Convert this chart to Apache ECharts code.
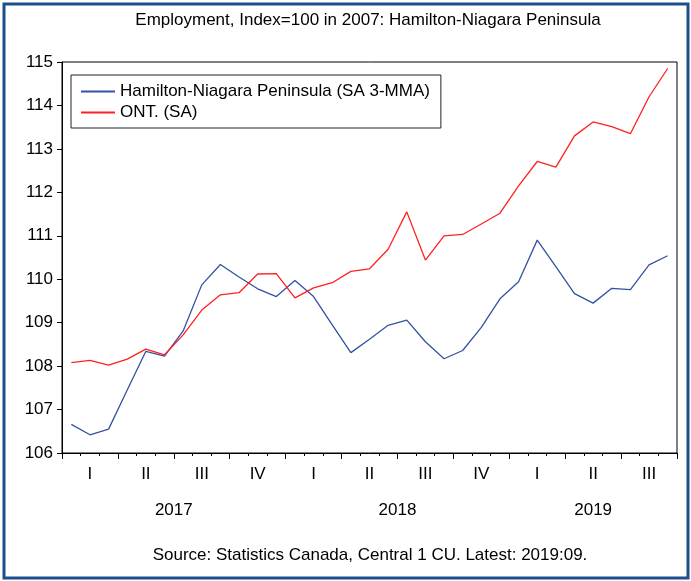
<!DOCTYPE html>
<html>
<head>
<meta charset="utf-8">
<script src="https://cdn.jsdelivr.net/npm/echarts@6/dist/echarts.min.js"></script>
<style>
  html, body { margin: 0; padding: 0; background: #fff; }
  #chart { width: 691px; height: 581px; }
</style>
</head>
<body>
<div id="chart"></div>
<script>
// Monthly observations, Jan 2017 .. Sep 2019
const months = [
  '2017-01','2017-02','2017-03','2017-04','2017-05','2017-06','2017-07','2017-08','2017-09','2017-10','2017-11','2017-12',
  '2018-01','2018-02','2018-03','2018-04','2018-05','2018-06','2018-07','2018-08','2018-09','2018-10','2018-11','2018-12',
  '2019-01','2019-02','2019-03','2019-04','2019-05','2019-06','2019-07','2019-08','2019-09'
];
const quarters = ['2017Q1','2017Q2','2017Q3','2017Q4','2018Q1','2018Q2','2018Q3','2018Q4','2019Q1','2019Q2','2019Q3'];
const quarterNames = ['I', 'II', 'III', 'IV'];
// Year label placed at the middle of each year's span (in months from the start)
const yearCentres = { 6: '2017', 18: '2018', 28.5: '2019' };

const hamilton = [
  106.66, 106.42, 106.55, 107.45, 108.34, 108.23, 108.81, 109.87, 110.34, 110.05, 109.78, 109.60,
  109.97, 109.60, 108.95, 108.31, 108.62, 108.94, 109.06, 108.56, 108.17, 108.36, 108.89, 109.55,
  109.94, 110.90, 110.29, 109.67, 109.45, 109.79, 109.76, 110.33, 110.54
];
const ontario = [
  108.08, 108.13, 108.02, 108.16, 108.39, 108.26, 108.72, 109.29, 109.64, 109.69, 110.12, 110.13,
  109.57, 109.80, 109.92, 110.18, 110.24, 110.69, 111.55, 110.44, 111.00, 111.03, 111.27, 111.52,
  112.15, 112.71, 112.58, 113.30, 113.62, 113.51, 113.35, 114.20, 114.85
];

const seriesNames = ['Hamilton-Niagara Peninsula (SA 3-MMA)', 'ONT. (SA)'];
const yTicks = { min: 106, max: 115, step: 1 };

const FONT = '"Liberation Sans", Arial, sans-serif';
const FS = 17;
const chart = echarts.init(document.getElementById('chart'), null, { renderer: 'canvas' });

const gridBox = { left: 62, top: 62, right: 14, bottom: 128 };

chart.setOption({
  backgroundColor: '#ffffff',
  animation: false,
  title: [
    {
      text: 'Employment, Index=100 in 2007: Hamilton-Niagara Peninsula',
      left: 368, top: 12, textAlign: 'center', padding: 0,
      textStyle: { fontFamily: FONT, fontSize: FS, fontWeight: 'normal', color: '#000' }
    },
    {
      text: 'Source: Statistics Canada, Central 1 CU. Latest: 2019:09.',
      left: 370, top: 547, textAlign: 'center', padding: 0,
      textStyle: { fontFamily: FONT, fontSize: FS, fontWeight: 'normal', color: '#000' }
    }
  ],
  legend: {
    left: 71, top: 75, orient: 'vertical',
    data: seriesNames,
    backgroundColor: '#fff',
    borderColor: '#222', borderWidth: 1,
    padding: [8, 11, 7, 9],
    itemWidth: 34, itemHeight: 14, itemGap: 4,
    itemStyle: { opacity: 0 },
    textStyle: { fontFamily: FONT, fontSize: FS, color: '#000' }
  },
  grid: Object.assign({ show: true, borderColor: '#000', borderWidth: 1, containLabel: false }, gridBox),
  xAxis: [
    {
      // monthly bands with minor ticks and quarter numerals
      type: 'category', data: months, boundaryGap: true, position: 'bottom',
      axisLine: { show: true, lineStyle: { color: '#000', width: 1 } },
      axisTick: { show: true, interval: 0, length: 3, lineStyle: { color: '#000' } },
      axisLabel: {
        interval: 0, margin: 13,
        fontFamily: FONT, fontSize: FS, color: '#000',
        formatter: (v, i) => (i % 3 === 1 ? quarterNames[Math.floor((Number(v.slice(5)) - 1) / 3)] : '')
      },
      splitLine: { show: false }
    },
    {
      // quarter boundaries: longer ticks
      type: 'category', data: quarters, boundaryGap: true, position: 'bottom',
      axisLine: { show: false },
      axisTick: { show: true, interval: 0, length: 6, lineStyle: { color: '#000' } },
      axisLabel: { show: false },
      splitLine: { show: false }
    },
    {
      // year labels centred under each year
      type: 'value', min: 0, max: months.length, interval: 0.5, position: 'bottom',
      axisLine: { show: false }, axisTick: { show: false }, splitLine: { show: false },
      axisLabel: {
        margin: 49, showMinLabel: true, showMaxLabel: true,
        fontFamily: FONT, fontSize: FS, color: '#000',
        formatter: v => yearCentres[v] || ''
      }
    }
  ],
  yAxis: {
    type: 'value', min: yTicks.min, max: yTicks.max, interval: yTicks.step,
    axisLine: { show: true, lineStyle: { color: '#000', width: 1 } },
    axisTick: { show: true, length: 5, lineStyle: { color: '#000' } },
    axisLabel: { margin: 9, fontFamily: FONT, fontSize: FS, color: '#000' },
    splitLine: { show: false }
  },
  series: [
    {
      name: seriesNames[0], type: 'line', data: hamilton, xAxisIndex: 0,
      symbol: 'none', lineStyle: { color: '#3451a3', width: 1.3 }, itemStyle: { color: '#3451a3' }
    },
    {
      name: seriesNames[1], type: 'line', data: ontario, xAxisIndex: 0,
      symbol: 'none', lineStyle: { color: '#ff2020', width: 1.3 }, itemStyle: { color: '#ff2020' }
    }
  ],
  graphic: [
    {
      type: 'rect', silent: true, z: 100,
      shape: { x: 4, y: 4, width: 684, height: 574 },
      style: { fill: 'none', stroke: '#1f4e8c', lineWidth: 3 }
    }
  ]
});
</script>
</body>
</html>
